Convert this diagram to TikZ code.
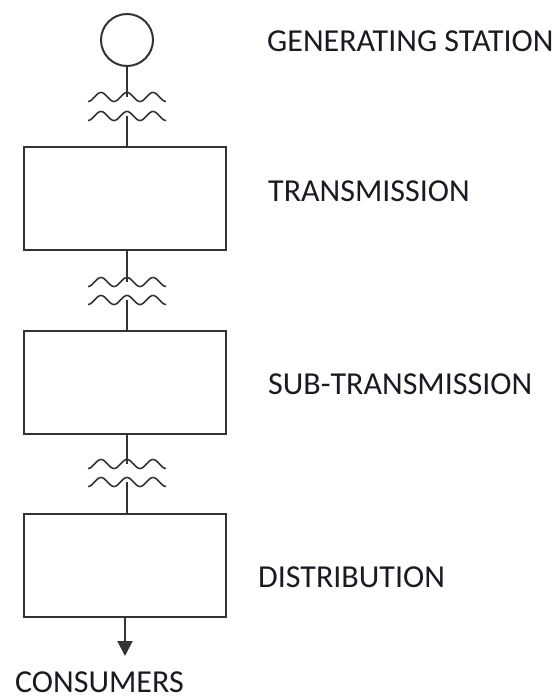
\documentclass[tikz,border=0pt]{standalone}
\usepackage{fontspec}
\setmainfont{Carlito}
\usetikzlibrary{arrows.meta}
\definecolor{wire}{HTML}{333333}
\definecolor{ink}{HTML}{1A1A22}
\tikzset{
  wire/.style={draw=wire, line width=2pt},
  stage/.style={wire, rectangle, minimum width=202pt, minimum height=103pt, inner sep=0pt, anchor=north},
  gencircle/.style={wire, circle, minimum size=52pt, inner sep=0pt},
  label/.style={anchor=base west, inner sep=0pt, text=ink, font=\fontsize{32}{36}\selectfont},
  coil/.style={draw=wire, line width=1.6pt}
}
% a winding of a transformer: three periods of a sine wave centred on (cx,cy)
\newcommand{\coilat}[2]{%
  \draw[coil] plot[domain=0:78, samples=80, smooth] ({#1-39+\x}, {#2+4.5*cos(\x/26*360)});}
\begin{document}
\begin{tikzpicture}[x=1pt, y=-1pt]
  \useasboundingbox (0,0) rectangle (559,700);

  % generator and stages
  \node[gencircle] (gen) at (127,40) {};
  \node[stage] (trans) at (125,146) {};
  \node[stage] (subt)  at (125,330) {};
  \node[stage] (dist)  at (125,513) {};

  % transformer winding points
  \coordinate (t1a) at (127,97);
  \coordinate (t1b) at (127,116);
  \coordinate (t2a) at (127,282);
  \coordinate (t2b) at (127,300);
  \coordinate (t3a) at (127,464);
  \coordinate (t3b) at (127,482);
  \coordinate (load) at (125,656);

  % connections through the transformers
  \draw[wire] (gen.south) -- (t1a);
  \draw[wire] (t1b) -- (trans.north -| t1b);
  \draw[wire] (trans.south -| t2a) -- (t2a);
  \draw[wire] (t2b) -- (subt.north -| t2b);
  \draw[wire] (subt.south -| t3a) -- (t3a);
  \draw[wire] (t3b) -- (dist.north -| t3b);
  \draw[wire, -{Triangle[length=15pt, width=15pt]}] (dist.south) -- (load);

  % transformer windings
  \coilat{127}{97}
  \coilat{127}{116}
  \coilat{127}{282}
  \coilat{127}{300}
  \coilat{127}{464}
  \coilat{127}{482}

  % labels
  \node[label] (lgen)   at (267,52)  {GENERATING STATION};
  \node[label] (ltrans) at (268,202) {TRANSMISSION};
  \node[label] (lsubt)  at (268,394) {SUB-TRANSMISSION};
  \node[label] (ldist)  at (258,587) {DISTRIBUTION};
  \node[label] (lcons)  at (15,692)  {CONSUMERS};
\end{tikzpicture}
\end{document}
